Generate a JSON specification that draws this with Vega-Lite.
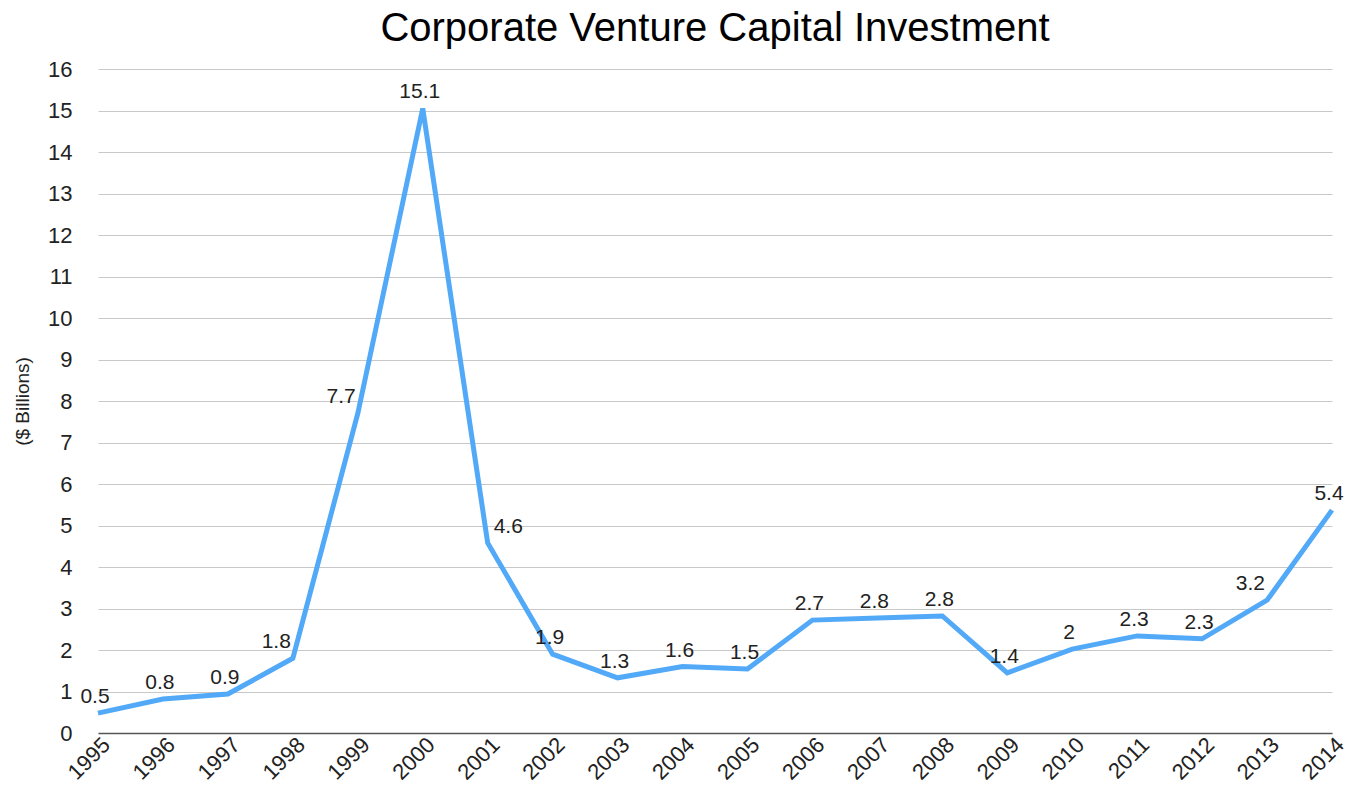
{
  "$schema": "https://vega.github.io/schema/vega-lite/v6.json",
  "width": 1234,
  "height": 664,
  "autosize": "none",
  "padding": {"left": 98, "top": 69, "right": 29, "bottom": 56},
  "background": "white",
  "title": {
    "text": "Corporate Venture Capital Investment",
    "font": "Liberation Sans",
    "fontSize": 40,
    "fontWeight": "normal",
    "color": "#000000",
    "anchor": "middle",
    "offset": 9
  },
  "config": {
    "view": {"stroke": null},
    "font": "Liberation Sans"
  },
  "data": {
    "values": [
      {"year": "1995", "value": 0.48},
      {"year": "1996", "value": 0.82},
      {"year": "1997", "value": 0.94},
      {"year": "1998", "value": 1.8},
      {"year": "1999", "value": 7.7},
      {"year": "2000", "value": 15.05},
      {"year": "2001", "value": 4.58},
      {"year": "2002", "value": 1.9},
      {"year": "2003", "value": 1.33},
      {"year": "2004", "value": 1.6},
      {"year": "2005", "value": 1.54},
      {"year": "2006", "value": 2.72},
      {"year": "2007", "value": 2.77},
      {"year": "2008", "value": 2.82},
      {"year": "2009", "value": 1.45},
      {"year": "2010", "value": 2.02},
      {"year": "2011", "value": 2.34},
      {"year": "2012", "value": 2.27},
      {"year": "2013", "value": 3.2},
      {"year": "2014", "value": 5.37}
    ]
  },
  "encoding": {
    "x": {
      "field": "year",
      "type": "ordinal",
      "scale": {"type": "point", "padding": 0},
      "axis": {
        "title": null,
        "labelAngle": -45,
        "labelAlign": "right",
        "labelBaseline": "middle",
        "labelFontSize": 22,
        "labelColor": "#222222",
        "labelPadding": 8,
        "labelOffset": 8,
        "ticks": false,
        "domainColor": "#555555",
        "domainWidth": 1.5,
        "grid": false
      }
    },
    "y": {
      "field": "value",
      "type": "quantitative",
      "scale": {"domain": [0, 16], "nice": false},
      "axis": {
        "title": "($ Billions)",
        "titleFontSize": 19,
        "titleFontWeight": "normal",
        "titleColor": "#222222",
        "titleX": -76,
        "titleY": 332,
        "titleAlign": "center",
        "titleBaseline": "middle",
        "values": [0,1,2,3,4,5,6,7,8,9,10,11,12,13,14,15,16],
        "labelFontSize": 22,
        "labelColor": "#222222",
        "labelPadding": 26,
        "ticks": false,
        "domain": false,
        "gridColor": "#c8c8c8",
        "gridWidth": 1
      }
    }
  },
  "layer": [
    {
      "mark": {"type": "line", "color": "#52a9f7", "strokeWidth": 5, "strokeJoin": "miter"}
    },
    {
      "transform": [{"filter": "indexof(['1998','1999','2013'], datum.year) < 0 && datum.year != '2001'"}],
      "mark": {"type": "text", "fontSize": 21, "color": "#222222", "baseline": "alphabetic", "align": "center", "dx": -3, "dy": -10},
      "encoding": {"text": {"field": "value", "type": "quantitative", "format": ".1~f"}}
    },
    {
      "transform": [{"filter": "indexof(['1998','1999','2013'], datum.year) >= 0"}],
      "mark": {"type": "text", "fontSize": 21, "color": "#222222", "baseline": "alphabetic", "align": "right", "dx": -2, "dy": -10},
      "encoding": {"text": {"field": "value", "type": "quantitative", "format": ".1~f"}}
    },
    {
      "transform": [{"filter": "datum.year == '2001'"}],
      "mark": {"type": "text", "fontSize": 21, "color": "#222222", "baseline": "alphabetic", "align": "left", "dx": 6, "dy": -10},
      "encoding": {"text": {"field": "value", "type": "quantitative", "format": ".1~f"}}
    }
  ]
}
